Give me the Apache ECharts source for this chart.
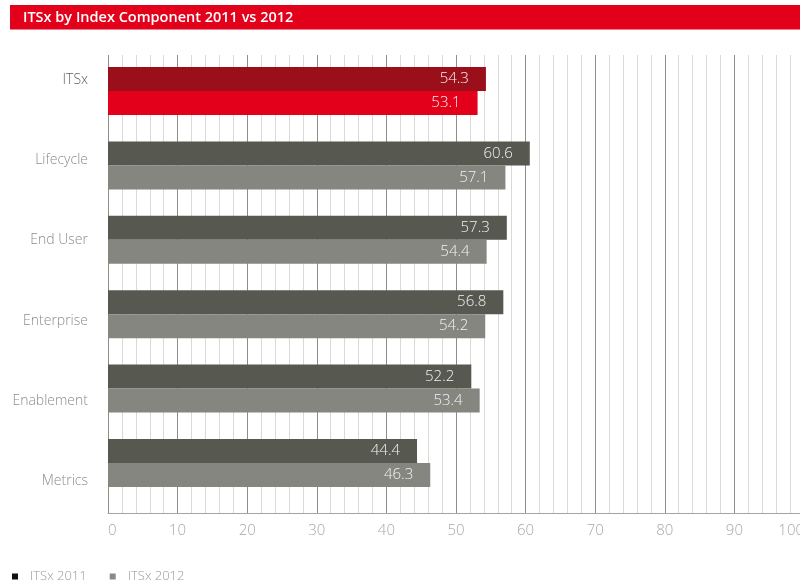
<!DOCTYPE html>
<html>
<head>
<meta charset="utf-8">
<script src="https://cdn.jsdelivr.net/npm/echarts@6/dist/echarts.min.js"></script>
<style>
  html, body { margin: 0; padding: 0; background: #ffffff; }
  #chart { width: 800px; height: 588px; }
</style>
</head>
<body>
<div id="chart"></div>
<script>
// Index components and scores for both years
const categories = ['ITSx', 'Lifecycle', 'End User', 'Enterprise', 'Enablement', 'Metrics'];
const values2011 = [54.3, 60.6, 57.3, 56.8, 52.2, 44.4];
const values2012 = [53.1, 57.1, 54.4, 54.2, 53.4, 46.3];
const seriesNames = ['ITSx 2011', 'ITSx 2012'];
const axisMin = 0;
const axisMax = 100;
const axisStep = 10;

const FONT = '"Open Sans", "Noto Sans", sans-serif';
const COLORS = {
  red2011: '#9b0f1a',
  red2012: '#e2001a',
  gray2011: '#575850',
  gray2012: '#858680'
};

// the overall index row is highlighted in red, components in gray
function barData(values, highlight, normal) {
  return values.map((v, i) => ({
    value: v,
    itemStyle: { color: i === 0 ? highlight : normal }
  }));
}

const valueLabel = {
  show: true,
  position: 'insideRight',
  distance: 17,
  color: '#f2f2f2',
  fontFamily: FONT,
  fontWeight: 300,
  fontSize: 15
};

const chart = echarts.init(document.getElementById('chart'), null, { renderer: 'canvas' });

chart.setOption({
  animation: false,
  backgroundColor: '#ffffff',
  graphic: [
    {
      type: 'rect',
      left: 10, top: 5,
      shape: { width: 790, height: 24.5 },
      style: { fill: '#e2001a' },
      z: 0
    },
    {
      type: 'text',
      x: 23, y: 18,
      style: {
        text: 'ITSx by Index Component 2011 vs 2012',
        fill: '#ffffff',
        font: '600 14.5px ' + FONT,
        verticalAlign: 'middle'
      },
      z: 1
    }
  ],
  legend: {
    left: 12,
    top: 570,
    padding: 0,
    icon: 'rect',
    itemWidth: 6,
    itemHeight: 6,
    itemGap: 23,
    selectedMode: false,
    textStyle: {
      color: '#999999',
      fontFamily: FONT,
      fontWeight: 300,
      fontSize: 13,
      padding: [0, 0, 0, 7]
    },
    data: [
      { name: seriesNames[0], itemStyle: { color: '#111111' } },
      { name: seriesNames[1], itemStyle: { color: '#8a8a85' } }
    ]
  },
  grid: [
    // bars
    { left: 108, right: -4, top: 53.8, height: 446.4, outerBoundsMode: 'none' },
    // scale frame with gridlines
    { left: 108, right: -4, top: 55, bottom: 75, outerBoundsMode: 'none' },
    // category labels
    { left: 108, right: -4, top: 80, height: 401, outerBoundsMode: 'none' }
  ],
  xAxis: [
    {
      gridIndex: 0, type: 'value', min: axisMin, max: axisMax, interval: axisStep,
      show: false
    },
    {
      gridIndex: 1, type: 'value', min: axisMin, max: axisMax, interval: axisStep,
      axisLine: { show: true, lineStyle: { color: '#a5a5a0', width: 1 } },
      axisTick: { show: false },
      axisLabel: {
        color: '#a8a8a8',
        fontFamily: FONT,
        fontWeight: 300,
        fontSize: 15,
        margin: 10,
        alignMinLabel: 'left',
        alignMaxLabel: 'right'
      },
      splitLine: { show: true, lineStyle: { color: '#8e8e89', width: 1 } },
      minorTick: { show: false, splitNumber: 5 },
      minorSplitLine: { show: true, lineStyle: { color: '#d9d9d5', width: 1 } }
    },
    {
      gridIndex: 2, type: 'value', min: axisMin, max: axisMax, show: false
    }
  ],
  yAxis: [
    {
      gridIndex: 0, type: 'category', data: categories, inverse: true, show: false
    },
    {
      gridIndex: 1, type: 'value', min: 0, max: 1, show: false
    },
    {
      gridIndex: 2, type: 'category', inverse: true, boundaryGap: false,
      data: categories.map((c, i) => ({
        value: c,
        textStyle: { color: i === 0 ? '#5e5e5e' : '#8c8c8c' }
      })),
      axisLine: { show: false },
      axisTick: { show: false },
      splitLine: { show: false },
      axisLabel: {
        fontFamily: FONT,
        fontWeight: 300,
        fontSize: 14,
        margin: 20
      }
    }
  ],
  series: [
    {
      name: seriesNames[0],
      type: 'bar',
      xAxisIndex: 0, yAxisIndex: 0,
      barWidth: 24,
      barGap: '0%',
      data: barData(values2011, COLORS.red2011, COLORS.gray2011),
      label: valueLabel,
      z: 3
    },
    {
      name: seriesNames[1],
      type: 'bar',
      xAxisIndex: 0, yAxisIndex: 0,
      barWidth: 24,
      barGap: '0%',
      data: barData(values2012, COLORS.red2012, COLORS.gray2012),
      label: valueLabel,
      z: 3
    }
  ]
});
</script>
</body>
</html>
